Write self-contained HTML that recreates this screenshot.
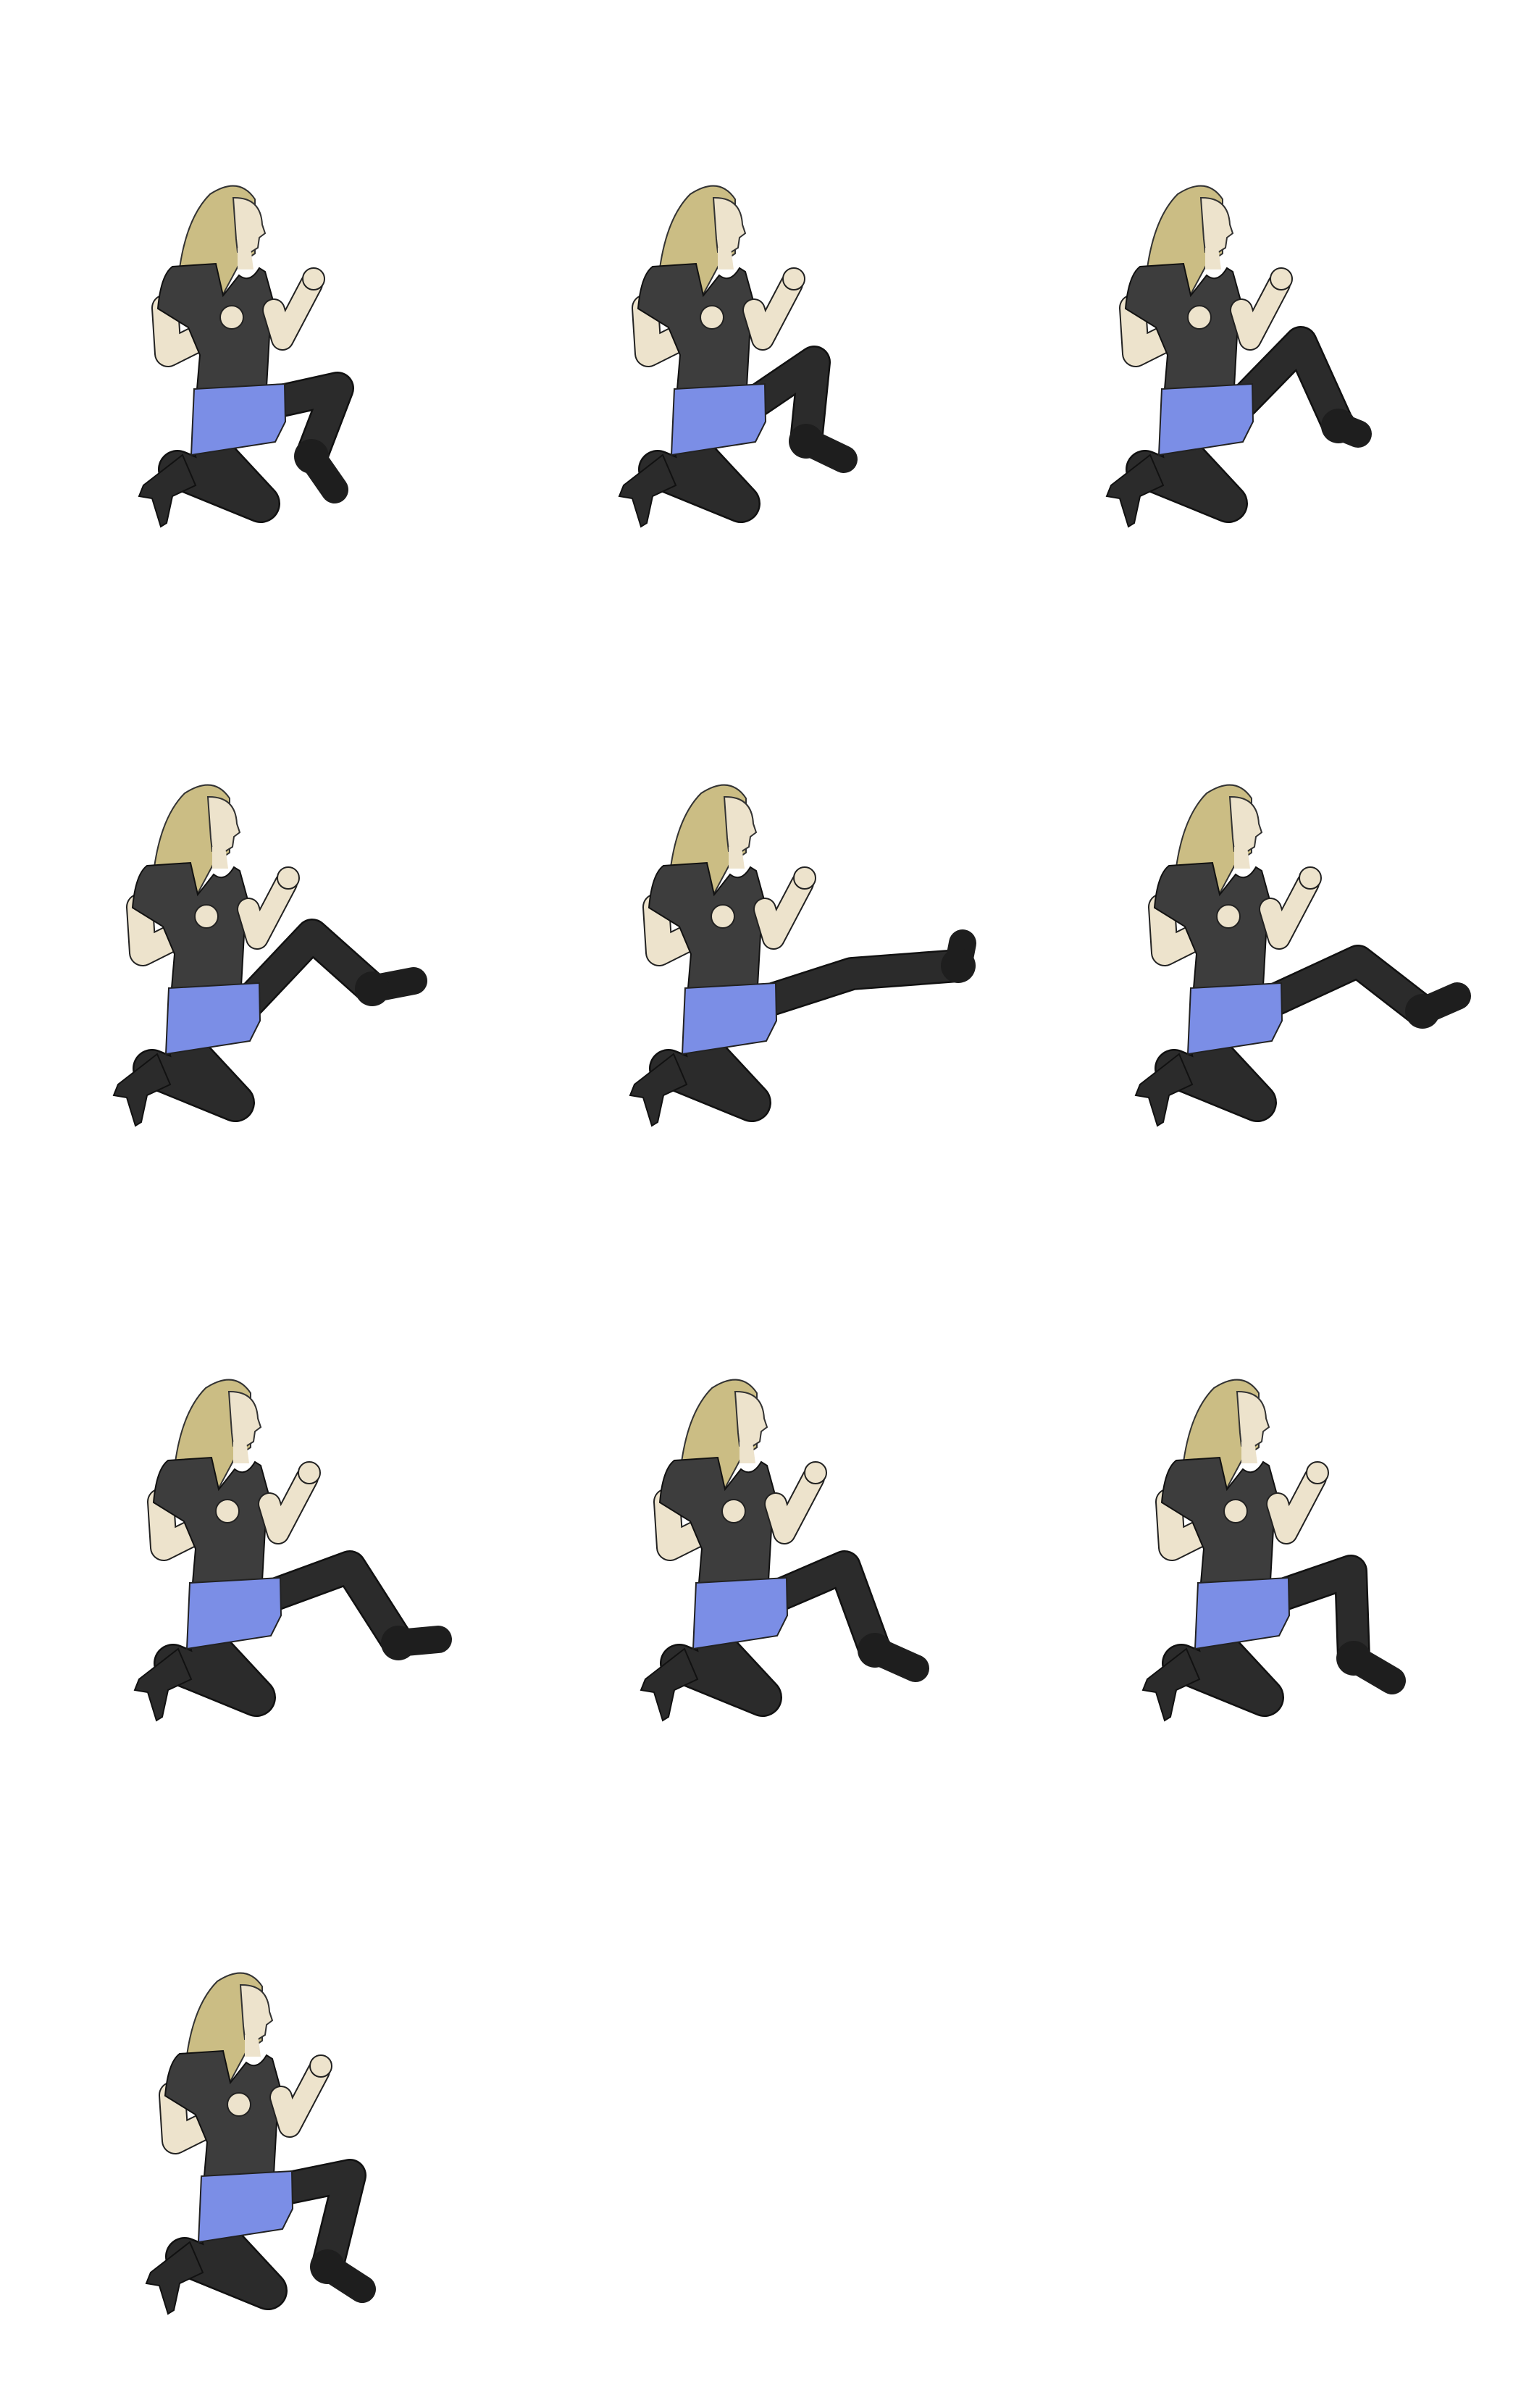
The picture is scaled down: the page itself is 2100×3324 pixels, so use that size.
<!DOCTYPE html>
<html><head><meta charset="utf-8">
<style>html,body{margin:0;padding:0;background:#fff}svg{display:block}</style>
</head><body>
<svg id="sheet" width="2100" height="3324" viewBox="0 0 2100 3324" xmlns="http://www.w3.org/2000/svg">
<defs>
<g id="torso">
  <polyline points="115,395 180,465 65,418" fill="none" stroke="#111" stroke-width="54" stroke-linejoin="round" stroke-linecap="round"/>
  <polyline points="115,395 180,465 65,418" fill="none" stroke="#2b2b2b" stroke-width="49" stroke-linejoin="round" stroke-linecap="round"/>
  <path d="M72,398 L18,440 L12,455 L30,458 L42,497 L50,492 L58,455 L90,440 Z" fill="#2b2b2b" stroke="#111" stroke-width="2"/>
  <path d="M110,38 Q150,12 172,45 L172,120 L150,135 L127,178 L68,140 Q78,70 110,38 Z" fill="#cbbd84" stroke="#333" stroke-width="2"/>
  <path d="M142,43 Q180,42 182,80 L186,92 L178,98 L176,112 L160,122 L148,118 L146,100 Z" fill="#ede3cc" stroke="#333" stroke-width="2"/>
  <path d="M148,112 L166,112 L170,142 L148,142 Z" fill="#ede3cc"/>
  <polyline points="48,195 52,258 138,215" fill="none" stroke="#222" stroke-width="38" stroke-linejoin="round" stroke-linecap="round"/>
  <polyline points="48,195 52,258 138,215" fill="none" stroke="#ede3cc" stroke-width="34" stroke-linejoin="round" stroke-linecap="round"/>
  <path d="M58,138 L118,134 L128,178 L150,150 Q165,162 178,140 L186,145 L200,196 L193,215 L188,304 L92,307 L96,260 L80,222 L38,196 Q42,150 58,138 Z" fill="#3d3d3d" stroke="#111" stroke-width="2"/>
  <circle cx="140" cy="208" r="16" fill="#ede3cc" stroke="#222" stroke-width="2"/>
  <polyline points="198,198 210,238 250,162" fill="none" stroke="#222" stroke-width="32" stroke-linejoin="round" stroke-linecap="round"/>
  <polyline points="198,198 210,238 250,162" fill="none" stroke="#ede3cc" stroke-width="28" stroke-linejoin="round" stroke-linecap="round"/>
  <circle cx="253" cy="155" r="15" fill="#ede3cc" stroke="#222" stroke-width="2"/>
  <path d="M88,307 L213,300 L214,352 L200,380 L84,398 Z" fill="#7b8ee6" stroke="#222" stroke-width="2"/>
</g>
</defs>
<g id="frames"></g>
</svg>
<script>
const bodyShift = [0,-30,-50,-35,-15,-10,-6,0,0,10];
const kneeX = [286,251,230,251,303,309,303,293,299,303];
const kneeY = [306,270,243,234,287,270,285,285,291,306];
const ankleX = [250,240,282,334,450,398,370,335,303,272];
const ankleY = [400,379,358,308,276,339,390,400,411,432];
const toeX = [282,292,309,391,456,446,425,391,356,320];
const toeY = [446,404,369,297,245,318,385,425,442,463];
const colOffsets = [0,693,1386];
const rowOffsets = [0,827,1648,2467];
const NS = "http://www.w3.org/2000/svg";
const root = document.getElementById('frames');
for (let i = 0; i < kneeX.length; i++) {
  const ox = 180 + colOffsets[i % 3], oy = 230 + rowOffsets[Math.floor(i / 3)];
  const g = document.createElementNS(NS, 'g');
  
  
  g.setAttribute('transform', `translate(${ox},${oy})`);
  const hipX = 200 + bodyShift[i], hipY = 325;
  const pts = `${hipX},${hipY} ${kneeX[i]},${kneeY[i]} ${ankleX[i]},${ankleY[i]}`;
  const o = document.createElementNS(NS, 'polyline');
  o.setAttribute('points', pts);
  o.setAttribute('fill', 'none'); o.setAttribute('stroke', '#111');
  o.setAttribute('stroke-width', '46'); o.setAttribute('stroke-linejoin', 'round'); o.setAttribute('stroke-linecap', 'round');
  
  
  g.appendChild(o);
  const l = document.createElementNS(NS, 'polyline');
  l.setAttribute('points', pts);
  l.setAttribute('fill', 'none'); l.setAttribute('stroke', '#2b2b2b');
  l.setAttribute('stroke-width', '41'); l.setAttribute('stroke-linejoin', 'round'); l.setAttribute('stroke-linecap', 'round');
  
  
  g.appendChild(l);
  const b = document.createElementNS(NS, 'line');
  b.setAttribute('x1', ankleX[i]); b.setAttribute('y1', ankleY[i]);
  b.setAttribute('x2', toeX[i]); b.setAttribute('y2', toeY[i]);
  b.setAttribute('stroke', '#1e1e1e'); b.setAttribute('stroke-width', '38'); b.setAttribute('stroke-linecap', 'round');
  
  
  g.appendChild(b);
  const h = document.createElementNS(NS, 'circle');
  h.setAttribute('cx', ankleX[i]); h.setAttribute('cy', ankleY[i]);
  h.setAttribute('r', '24'); h.setAttribute('fill', '#1e1e1e');
  
  
  g.appendChild(h);
  const u = document.createElementNS(NS, 'use');
  u.setAttribute('href', '#torso');
  u.setAttribute('transform', `translate(${bodyShift[i]},0)`);
  
  
  g.appendChild(u);
  root.appendChild(g);
}
</script>
</body></html>
